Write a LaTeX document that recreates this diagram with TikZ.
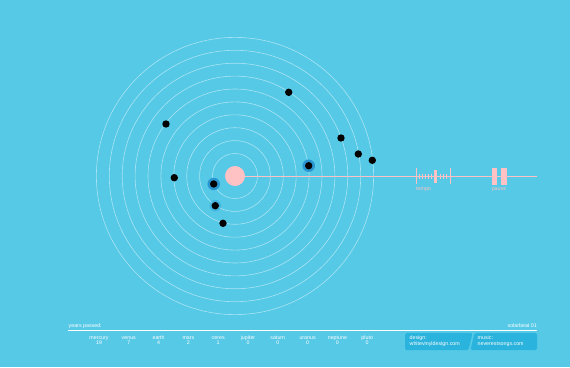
\documentclass[tikz,border=0pt]{standalone}
\usepackage{fontspec}
\setmainfont{Liberation Sans}
\definecolor{bg}{HTML}{55C9E6}
\definecolor{boxc}{HTML}{2AB3DC}
\definecolor{sun}{HTML}{FFC2C4}
\definecolor{halo}{HTML}{2A96D2}
\begin{document}
\begin{tikzpicture}[x=1pt,y=-1pt,
  ring/.style={draw=white,draw opacity=0.5,line width=0.6pt},
  planet/.style={circle,fill=black,inner sep=0pt,minimum size=7.4pt},
  haloed/.style={circle,fill=halo,inner sep=0pt,minimum size=12.5pt},
  lbl/.style={font=\fontsize{5.3}{5.8}\selectfont,text=white,align=center,inner sep=0pt},
  tick/.style={draw=sun,line width=0.6pt},
  pinkbar/.style={fill=sun}]
\useasboundingbox (0,0) rectangle (570,367);
\fill[bg] (0,0) rectangle (570,367);
\coordinate (c) at (235,176);
\foreach \i in {0,...,9}{
  \draw[ring] (c) circle ({22.5+12.9*\i});
}
\coordinate (lineend) at (537,176);
\draw[sun,line width=0.8pt] (c) -- (lineend);
\node[circle,fill=sun,inner sep=0pt,minimum size=20pt] (sunnode) at (c) {};
% planets
\node[haloed] at (308.7,165.7) {};
\node[haloed] at (213.7,184) {};
\node[circle,fill=halo,fill opacity=0.4,inner sep=0pt,minimum size=11.5pt] at (215.3,205.7) {};
\node[planet] (p1) at (288.7,92.3) {};
\node[planet] (p2) at (166,124) {};
\node[planet] (p3) at (341,138) {};
\node[planet] (p4) at (358.3,154) {};
\node[planet] (p5) at (372.3,160.3) {};
\node[planet] (p6) at (308.7,165.7) {};
\node[planet] (p7) at (174.3,177.7) {};
\node[planet] (p8) at (213.7,184) {};
\node[planet] (p9) at (215.3,205.7) {};
\node[planet] (p10) at (223,223.3) {};
% tempo
\draw[tick] (416.5,168) -- (416.5,184);
\draw[tick] (450.5,168) -- (450.5,184);
\foreach \x in {419.5,422.5,425.5,428.5,431.5,440,443,446}{
  \draw[sun,line width=0.45pt] (\x,173.5) -- (\x,179);
}
\fill[pinkbar] (434,169.5) rectangle (437.3,183);
\node[lbl,text=sun,anchor=base west] (tempo) at (416,190.5) {tempo};
% pause
\fill[pinkbar] (491.7,168) rectangle (497,185);
\fill[pinkbar] (501,168) rectangle (506.7,185);
\node[lbl,text=sun,anchor=base] (pause) at (499,190.5) {pause};
% bottom
\node[lbl,anchor=base west] (yp) at (68.5,327) {years passed:};
\node[lbl,anchor=base east] (sb) at (537,327) {solarbeat 01};
\coordinate (la) at (68,330);
\coordinate (lb) at (537,330);
\draw[white,line width=0.6pt] (la) -- (lb);
\foreach \n/\v [count=\k from 0] in {mercury/19,venus/7,earth/4,mars/2,ceres/1,jupiter/0,saturn/0,uranus/0,neptune/0,pluto/0}{
  \node[lbl,anchor=base] (n\k) at ({99+29.8*\k},339) {\n};
  \node[lbl,anchor=base] (v\k) at ({99+29.8*\k},344.3) {\v};
}
\fill[boxc,rounded corners=1.5pt] (405,333) -- (472.5,333) -- (468.5,350) -- (405,350) -- cycle;
\fill[boxc,rounded corners=1.5pt] (474.5,333) -- (537,333) -- (537,350) -- (470.5,350) -- cycle;
\node[lbl,align=left,anchor=base west] (des) at (409.5,339.5) {design:};
\node[lbl,align=left,anchor=base west] (des2) at (409.5,345.5) {whitevinyldesign.com};
\node[lbl,align=left,anchor=base west] (mus) at (477.5,339.5) {music:};
\node[lbl,align=left,anchor=base west] (mus2) at (477.5,345.5) {neverestsongs.com};
\end{tikzpicture}
\end{document}
